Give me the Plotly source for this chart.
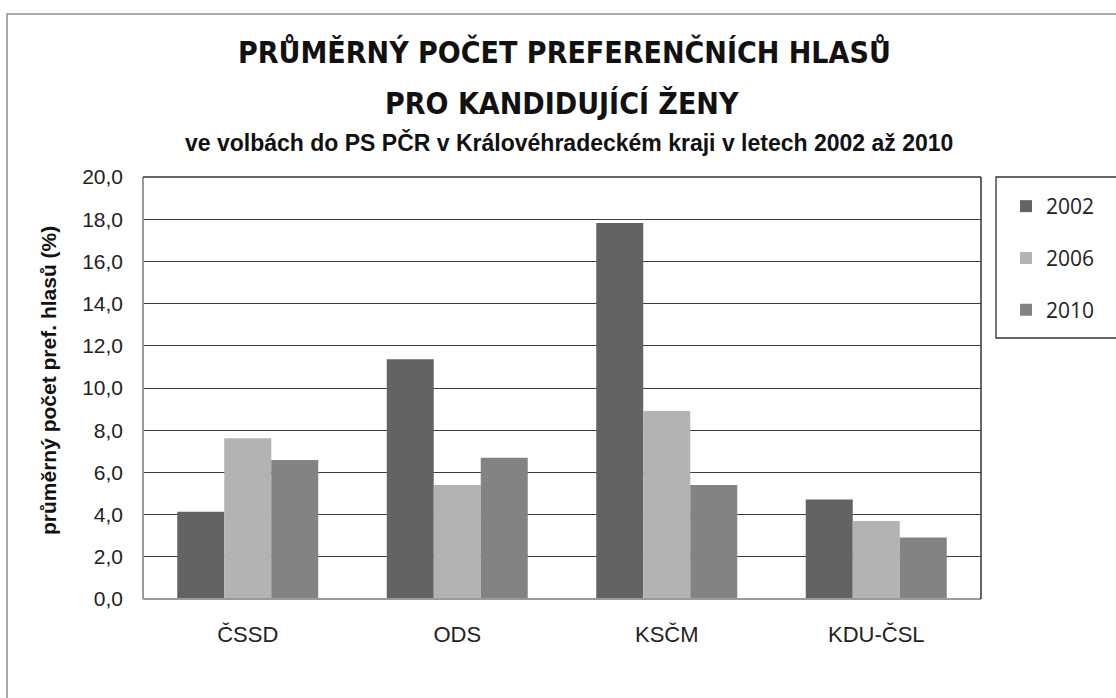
import plotly.graph_objects as go

categories = ["ČSSD", "ODS", "KSČM", "KDU-ČSL"]
years = ["2002", "2006", "2010"]
v2002 = [4.14, 11.36, 17.82, 4.72]
v2006 = [7.62, 5.40, 8.91, 3.70]
v2010 = [6.59, 6.70, 5.40, 2.92]
y_ticks = [0, 2, 4, 6, 8, 10, 12, 14, 16, 18, 20]

series = [v2002, v2006, v2010]
colors = ["#636363", "#b3b3b3", "#838383"]

W, H = 1116, 698
L, R, T, B = 143, 981, 177, 599

fig = go.Figure()
for name, vals, col in zip(years, series, colors):
    fig.add_trace(go.Bar(
        x=categories, y=vals, name=name, legendgroup=name,
        marker=dict(color=col, line=dict(width=0)),
    ))

def px(x):
    return (x - L) / (R - L)

def py(y):
    return (B - y) / (B - T)

fig.update_layout(
    width=W, height=H,
    margin=dict(l=L, r=W - R, t=T, b=H - B, autoexpand=False),
    paper_bgcolor="white", plot_bgcolor="white",
    separators=", ",
    barmode="group", bargap=0.327, bargroupgap=0,
    font=dict(family="Liberation Sans, Arial, sans-serif", color="#222"),
    showlegend=True,
    legend=dict(
        x=px(1006), xanchor="left", y=py(186), yanchor="top",
        bgcolor="rgba(0,0,0,0)", borderwidth=0,
        font=dict(family="Open Sans, Liberation Sans, sans-serif", size=21, color="#222"),
        tracegroupgap=21.5,
    ),
    xaxis=dict(
        showgrid=False, showline=False, zeroline=False,
        tickfont=dict(size=22, color="#222"),
        ticks="", ticklabelstandoff=20,
    ),
    yaxis=dict(
        range=[0, 20], tickvals=y_ticks, tickformat=".1f",
        showgrid=True, gridcolor="#3c3c3c", gridwidth=1.3,
        zeroline=False, showline=False,
        tickfont=dict(size=21, color="#222"),
        ticks="", ticklabelstandoff=19,
    ),
)

# plot-area frame
fig.add_shape(type="line", xref="paper", yref="paper", x0=0, x1=0, y0=0, y1=1,
              line=dict(color="#9a9a9a", width=2))
fig.add_shape(type="line", xref="paper", yref="paper", x0=0, x1=1, y0=0, y1=0,
              line=dict(color="#9a9a9a", width=2))
fig.add_shape(type="line", xref="paper", yref="paper", x0=1, x1=1, y0=0, y1=1,
              line=dict(color="#333", width=1.5))
fig.add_shape(type="line", xref="paper", yref="paper", x0=0, x1=1, y0=1, y1=1,
              line=dict(color="#333", width=1.5))

# legend box
fig.add_shape(type="rect", xref="paper", yref="paper",
              x0=px(996), x1=px(1125), y0=py(338), y1=py(177),
              line=dict(color="#333", width=1.3))

# outer chart frame
fig.add_shape(type="rect", xref="paper", yref="paper",
              x0=px(7), x1=px(1130), y0=py(710), y1=py(14),
              line=dict(color="#aaaaaa", width=2))

title_font = "Liberation Sans Narrow, DejaVu Sans Condensed, Liberation Sans, sans-serif"
fig.add_annotation(xref="paper", yref="paper", x=px(564), y=py(52),
                   text="<b>PRŮMĚRNÝ POČET PREFERENČNÍCH HLASŮ</b>", showarrow=False,
                   font=dict(family=title_font, size=30, color="#111"),
                   xanchor="center", yanchor="middle")
fig.add_annotation(xref="paper", yref="paper", x=px(562), y=py(104),
                   text="<b>PRO KANDIDUJÍCÍ ŽENY</b>", showarrow=False,
                   font=dict(family=title_font, size=30, color="#111"),
                   xanchor="center", yanchor="middle")
fig.add_annotation(xref="paper", yref="paper", x=px(569), y=py(142),
                   text="<b>ve volbách do PS PČR v Královéhradeckém kraji v letech 2002 až 2010</b>",
                   showarrow=False,
                   font=dict(family="Liberation Sans, Arial, sans-serif", size=23, color="#111"),
                   xanchor="center", yanchor="middle")
fig.add_annotation(xref="paper", yref="paper", x=px(48), y=py(381),
                   text="<b>průměrný počet pref. hlasů (%)</b>", showarrow=False, textangle=-90,
                   font=dict(family="Liberation Sans, Arial, sans-serif", size=21, color="#111"),
                   xanchor="center", yanchor="middle")

fig.write_html("out.html", config={"displayModeBar": False},
               post_script="document.body.style.margin='0';")
